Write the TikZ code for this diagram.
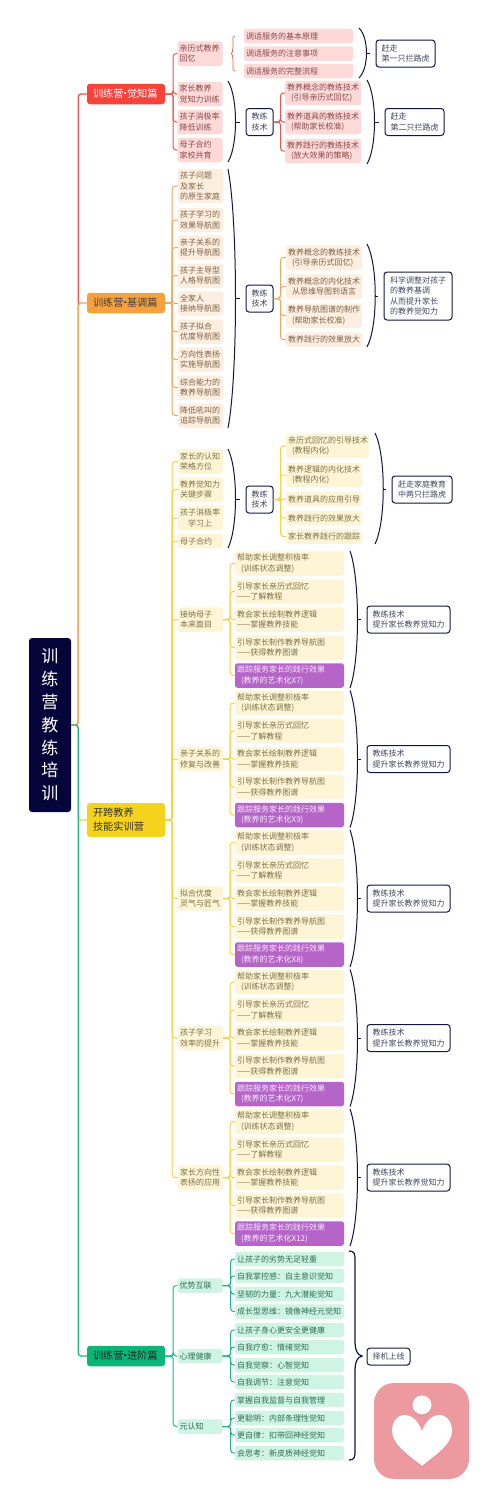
\documentclass[tikz,border=0pt]{standalone}
\usepackage{fontspec}
\usetikzlibrary{calc}
\setmainfont{Noto Sans CJK SC}
\definecolor{rootink}{HTML}{05053A}
\definecolor{boxink}{HTML}{14143F}
\definecolor{boxtext}{HTML}{45455F}
\definecolor{redmain}{HTML}{F9433A}
\definecolor{redline}{HTML}{E8584C}
\definecolor{redleaf}{HTML}{FDD9D8}
\definecolor{redtext}{HTML}{8A4A4A}
\definecolor{orangemain}{HTML}{F7A13E}
\definecolor{orangeline}{HTML}{F0A763}
\definecolor{orangeleaf}{HTML}{FDEEDF}
\definecolor{orangetext}{HTML}{7C6248}
\definecolor{yellowmain}{HTML}{F5D21C}
\definecolor{yellowline}{HTML}{F6D340}
\definecolor{yellowleaf}{HTML}{FDF5D6}
\definecolor{yellowtext}{HTML}{7D7248}
\definecolor{greenmain}{HTML}{0BB577}
\definecolor{greenline}{HTML}{22B585}
\definecolor{greenleaf}{HTML}{CFF3E5}
\definecolor{greentext}{HTML}{2F7058}
\definecolor{purpleleaf}{HTML}{B565C8}
\definecolor{purpletext}{HTML}{F7E8FA}
\definecolor{logopink}{HTML}{EC9A9F}
\definecolor{logoshade}{HTML}{E48B91}
\tikzset{
  root node/.style={rounded corners=3pt, fill=rootink, text=white, align=center,
    minimum width=42pt, minimum height=174pt, inner sep=0pt,
    font=\fontsize{17}{22.8}\selectfont},
  main node/.style={rounded corners=3pt, text width=66pt, inner xsep=6pt,
    inner ysep=0pt, minimum height=20.5pt, align=left,
    font=\fontsize{10.2}{14}\selectfont},
  leaf/.style={rounded corners=2.5pt, inner xsep=2pt, inner ysep=0pt, align=left,
    font=\fontsize{8}{10.3}\selectfont},
  short/.style={text width=41pt},
  medium/.style={text width=72pt},
  long/.style={text width=105pt},
  one line/.style={minimum height=14.5pt},
  two lines/.style={minimum height=24.5pt},
  red leaf/.style={leaf, fill=redleaf, text=redtext},
  orange leaf/.style={leaf, fill=orangeleaf, text=orangetext},
  yellow leaf/.style={leaf, fill=yellowleaf, text=yellowtext},
  green leaf/.style={leaf, fill=greenleaf, text=greentext},
  purple leaf/.style={leaf, fill=purpleleaf, text=purpletext},
  tech box/.style={draw=boxink, line width=1pt, rounded corners=3pt, fill=white,
    text=boxtext, inner sep=0pt, minimum width=#1, minimum height=27pt, align=left,
    font=\fontsize{8}{10.3}\selectfont},
  main link/.style={line width=1.4pt, rounded corners=3pt},
  sub link/.style={line width=1pt, rounded corners=3pt},
  bracket/.style={draw=boxink, line width=1pt, to path={
    .. controls ($(\tikztostart)!.2!(\tikztotarget)+(#1,0)$)
    and ($(\tikztostart)!.8!(\tikztotarget)+(#1,0)$) .. (\tikztotarget)}},
  stub/.style={draw=boxink, line width=1pt, shorten >=5.5pt},
  heart shape/.style={insert path={
    (422,1431) .. controls (418,1420) and (411,1415) .. (405,1415)
    .. controls (397,1415) and (392,1422) .. (392,1431)
    .. controls (392,1445) and (410,1456) .. (422,1466)
    .. controls (434,1456) and (452,1445) .. (452,1431)
    .. controls (452,1422) and (447,1415) .. (439,1415)
    .. controls (433,1415) and (426,1420) .. (422,1431) -- cycle}},
}
\newcommand{\ind}{\hspace*{4pt}}
\newcommand{\mdot}{\makebox[3.4pt]{·}}

\begin{document}
\begin{tikzpicture}[x=1pt, y=-1pt]
  \useasboundingbox (0,0) rectangle (480,1489);

  \node[root node] (root) at (50,725) {训\\练\\营\\教\\练\\培\\训};
  \node[main node, fill=redmain, text=white] (main1) at (126,94) {训练营\mdot{}觉知篇};
  \node[main node, fill=orangemain, text=black!75] (main2) at (126,303) {训练营\mdot{}基调篇};
  \node[main node, fill=yellowmain, text=black!80, minimum height=34pt] (main3) at (126,820)
    {开跨教养\\技能实训营};
  \node[main node, fill=greenmain, text=black!85] (main4) at (126,1356) {训练营\mdot{}进阶篇};

  \draw[main link, redline] (root.east) -- ++(7,0) |- (main1.west);
  \draw[main link, orangeline] (root.east) -- ++(7,0) |- (main2.west);
  \draw[main link, yellowline] (root.east) -- ++(7,0) |- (main3.west);
  \draw[main link, greenline] (root.east) -- ++(7,0) |- (main4.west);

  % awareness
  \node[red leaf, short, two lines] (recall) at (200,53.5) {亲历式教养\\回忆};
  \node[red leaf, short, two lines] (parent) at (200,94) {家长教养\\觉知力训练};
  \node[red leaf, short, two lines] (passive) at (200,122) {孩子消极率\\降低训练};
  \node[red leaf, short, two lines] (pact) at (200,150) {母子合约\\家校共育};
  \foreach \c in {recall,parent,passive,pact}
    \draw[sub link, redline] (main1.east) -- ++(8,0) |- (\c.west);

  \node[red leaf, long, one line] (tune1) at (298.5,36) {调适服务的基本原理};
  \node[red leaf, long, one line] (tune2) at (298.5,53.5) {调适服务的注意事项};
  \node[red leaf, long, one line] (tune3) at (298.5,71) {调适服务的完整流程};
  \draw[sub link, line width=0.7pt, redline] (235,36) .. controls (232,36) and (233,38) .. (233,44)
    .. controls (233,50) and (232,52) .. (230,53.5)
    .. controls (232,55) and (233,57) .. (233,63)
    .. controls (233,69) and (232,71) .. (235,71);
  \draw[bracket=10] (359,28) to (359,78);
  \node[tech box=59pt] (tiger1) at (405.5,53.5) {赶走\\第一只拦路虎};
  \draw[stub] (366.5,0 |- tiger1.west) -- (tiger1.west);

  \draw[bracket=10] (228,81) to (228,162);
  \node[tech box=27pt] (tech1) at (259.5,122) {教练\\技术};
  \draw[stub] (235.5,0 |- tech1.west) -- (tech1.west);
  \node[red leaf, medium, two lines] (concept1) at (323,93) {教养概念的教练技术\\\ind(引导亲历式回忆)};
  \node[red leaf, medium, two lines] (concept2) at (323,122) {教养道具的教练技术\\\ind(帮助家长校准)};
  \node[red leaf, medium, two lines] (concept3) at (323,151) {教养践行的教练技术\\\ind(放大效果的策略)};
  \foreach \c in {concept1,concept2,concept3}
    \draw[sub link, redline] (tech1.east) -- ++(7,0) |- (\c.west);
  \draw[bracket=10] (367,80) to (367,164);
  \node[tech box=59pt] (tiger2) at (414.5,122) {赶走\\第二只拦路虎};
  \draw[stub] (374.5,0 |- tiger2.west) -- (tiger2.west);

  % tone
  \node[orange leaf, short, minimum height=34pt] (guide1) at (200.5,186) {孩子问题\\及家长\\的原生家庭};
  \node[orange leaf, short, two lines] (guide2) at (200.5,220) {孩子学习的\\效果导航图};
  \node[orange leaf, short, two lines] (guide3) at (200.5,247.5) {亲子关系的\\提升导航图};
  \node[orange leaf, short, two lines] (guide4) at (200.5,275.5) {孩子主导型\\人格导航图};
  \node[orange leaf, short, two lines] (guide5) at (200.5,303.5) {全家人\\接纳导航图};
  \node[orange leaf, short, two lines] (guide6) at (200.5,331.5) {孩子拟合\\优度导航图};
  \node[orange leaf, short, two lines] (guide7) at (200.5,359.5) {方向性表扬\\实施导航图};
  \node[orange leaf, short, two lines] (guide8) at (200.5,387.5) {综合能力的\\教养导航图};
  \node[orange leaf, short, two lines] (guide9) at (200.5,415.5) {降低吼叫的\\追踪导航图};
  \foreach \i in {1,...,9}
    \draw[sub link, orangeline] (main2.east) -- ++(7,0) |- (guide\i.west);
  \draw[bracket=10] (228,169) to (228,428);
  \node[tech box=27pt] (tech2) at (259.5,298.5) {教练\\技术};
  \draw[stub] (235.5,0 |- tech2.west) -- (tech2.west);
  \node[orange leaf, medium, two lines] (tone1) at (324,257.5) {教养概念的教练技术\\\ind(引导亲历式回忆)};
  \node[orange leaf, medium, two lines] (tone2) at (324,286.5) {教养概念的内化技术\\\ind{}从思维导图到语言};
  \node[orange leaf, medium, two lines] (tone3) at (324,315.5) {教养导航图谱的制作\\\ind(帮助家长校准)};
  \node[orange leaf, medium, one line] (tone4) at (324,339.5) {教养践行的效果放大};
  \foreach \i in {1,...,4}
    \draw[sub link, orangeline] (tech2.east) -- ++(7,0) |- (tone\i.west);
  \draw[bracket=11] (367,244) to (367,347);
  \node[tech box=68pt, minimum height=48pt] (tiger3) at (418,296) {科学调整对孩子\\的教养基调\\从而提升家长\\的教养觉知力};
  \draw[stub] (375,0 |- tiger3.west) -- (tiger3.west);

  % practice
  \node[yellow leaf, short, two lines] (step1) at (200.5,461.5) {家长的认知\\荣格方位};
  \node[yellow leaf, short, two lines] (step2) at (200.5,489.5) {教养觉知力\\关键步骤};
  \node[yellow leaf, short, two lines] (step3) at (200.5,518) {孩子消极率\\\hspace*{8pt}学习上};
  \node[yellow leaf, short, one line] (step4) at (200.5,541) {母子合约};
  \foreach \i in {1,...,4}
    \draw[sub link, yellowline] (main3.east) -- ++(7,0) |- (step\i.west);
  \draw[bracket=10] (228,449) to (228,548);
  \node[tech box=27pt] (tech3) at (259.5,499.5) {教练\\技术};
  \draw[stub] (235.5,0 |- tech3.west) -- (tech3.west);
  \node[yellow leaf, long, text width=79pt, two lines] (home1) at (327.5,446) {亲历式回忆的引导技术\\\ind(教程内化)};
  \node[yellow leaf, medium, two lines] (home2) at (324,475) {教养逻辑的内化技术\\\ind(教程内化)};
  \node[yellow leaf, medium, one line] (home3) at (324,499) {教养道具的应用引导};
  \node[yellow leaf, medium, one line] (home4) at (324,518) {教养践行的效果放大};
  \node[yellow leaf, medium, one line] (home5) at (324,536.5) {家长教养践行的跟踪};
  \foreach \i in {1,...,5}
    \draw[sub link, yellowline] (tech3.east) -- ++(7,0) |- (home\i.west);
  \draw[bracket=11] (375,433) to (375,544);
  \node[tech box=60pt] (tiger4) at (422,489.5) {赶走家庭教育\\中两只拦路虎};
  \draw[stub] (383,0 |- tiger4.west) -- (tiger4.west);

  \foreach \i/\dy/\topic/\times in {1/0/{接纳母子\\本来面目}/X7, 2/139.5/{亲子关系的\\修复与改善}/X9,
      3/279/{拟合优度\\灵气与匠气}/X8, 4/418.5/{孩子学习\\效率的提升}/X7, 5/558/{家长方向性\\表扬的应用}/X12} {
    \begin{scope}[shift={(0,\dy)}]
      \node[yellow leaf, short, two lines] (topic\i) at (200.5,619.5) {\topic};
      \node[yellow leaf, long, two lines] (do\i a) at (289.5,563.5) {帮助家长调整积极率\\\ind(训练状态调整)};
      \node[yellow leaf, long, two lines] (do\i b) at (289.5,591.5) {引导家长亲历式回忆\\——了解教程};
      \node[yellow leaf, long, two lines] (do\i c) at (289.5,619.5) {教会家长绘制教养逻辑\\——掌握教养技能};
      \node[yellow leaf, long, two lines] (do\i d) at (289.5,647.5) {引导家长制作教养导航图\\——获得教养图谱};
      \node[purple leaf, long, two lines] (do\i e) at (289.5,675.5) {跟踪服务家长的践行效果\\\ind(教养的艺术化\times)};
      \foreach \c in {a,b,c,d,e}
        \draw[sub link, yellowline] (topic\i.east) -- ++(7,0) |- (do\i\c.west);
      \draw[bracket=10] (350,551) to (350,688);
      \node[tech box=83pt] (skill\i) at (408.5,619.5) {教练技术\\提升家长教养觉知力};
      \draw[stub] (357.5,0 |- skill\i.west) -- (skill\i.west);
    \end{scope}
    \draw[sub link, yellowline] (main3.east) -- ++(7,0) |- (topic\i.west);
  }

  % advanced
  \node[green leaf, short, one line] (adv1) at (200,1285.5) {优势互联};
  \node[green leaf, short, one line] (adv2) at (200,1356) {心理健康};
  \node[green leaf, short, one line] (adv3) at (200,1426.5) {元认知};
  \foreach \i in {1,2,3}
    \draw[sub link, greenline] (main4.east) -- ++(8,0) |- (adv\i.west);
  \foreach \n/\yy/\txt/\up in {
      a/1259/让孩子的劣势无足轻重/1, b/1276/自我掌控感：自主意识觉知/1, c/1294/坚韧的力量：九大潜能觉知/1,
      d/1311.5/成长型思维：镜像神经元觉知/1, e/1330/让孩子身心更安全更健康/2, f/1347/自我疗愈：情绪觉知/2,
      g/1365/自我觉察：心智觉知/2, h/1382/自我调节：注意觉知/2, i/1400/掌握自我监督与自我管理/3,
      j/1418/更聪明：内部条理性觉知/3, k/1435/更自律：扣带回神经觉知/3, l/1453/会思考：新皮质神经觉知/3} {
    \node[green leaf, long, one line] (grow\n) at (289.5,\yy) {\txt};
    \draw[sub link, greenline] (adv\up.east) -- ++(8,0) |- (grow\n.west);
  }
  \node[tech box=43pt, minimum height=17pt, align=center] (online) at (388.5,1356.5) {择机上线};
  \draw[boxink, line width=1.2pt] (349,1251) .. controls (355,1251) and (355,1254) .. (355,1262)
    -- (355,1340) .. controls (355,1350) and (357,1355) .. (362,1356)
    .. controls (357,1357) and (355,1362) .. (355,1372) -- (355,1449)
    .. controls (355,1457) and (355,1460) .. (349,1460);

  % logo
  \fill[logopink, rounded corners=20pt] (374,1383) rectangle (469,1479);
  \fill[logoshade, yshift=-1.2pt] (422,1405) circle (9.5);
  \fill[logoshade, yshift=-1.2pt, heart shape];
  \fill[white] (422,1405) circle (9.5);
  \fill[white, heart shape];
\end{tikzpicture}
\end{document}
